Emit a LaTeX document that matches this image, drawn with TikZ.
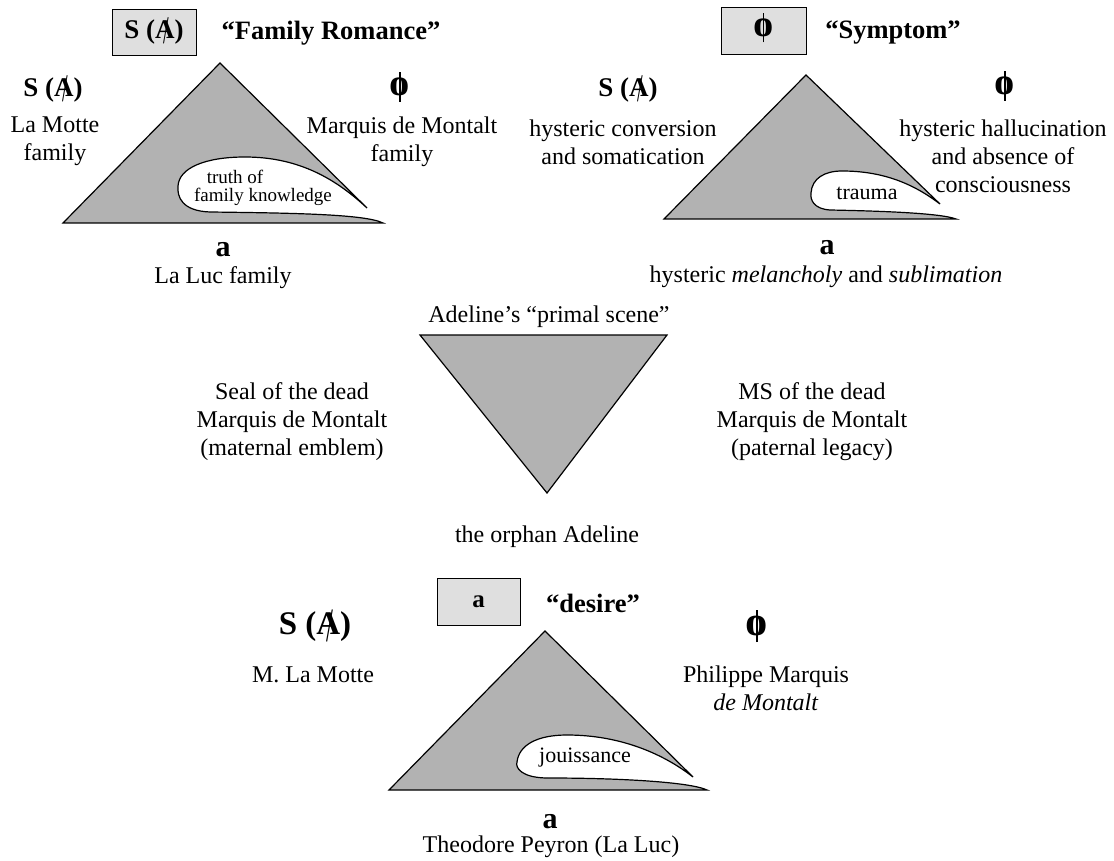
\documentclass[tikz,border=0pt]{standalone}
\usepackage{fontspec}
\setmainfont{Liberation Serif}
\usepackage{graphicx}
\newcommand\slA{\ooalign{\hfil A\hfil\cr\hfil\kern0.12em\raisebox{-0.2em}{\scalebox{0.75}[1.45]{\mdseries /}}\hfil}}
\newcommand\sA{S (\slA)}
\newcommand\phisym{\ooalign{\hfil\scalebox{1.35}[1.25]{\bfseries o}\hfil\cr\hfil\rule[-0.2em]{0.05em}{0.98em}\hfil}}
\tikzset{
  lbl/.style={font=\fontsize{24}{28}\selectfont, align=center, inner sep=0pt},
  smalllbl/.style={font=\fontsize{19}{21}\selectfont, align=center, inner sep=0pt},
  midlbl/.style={font=\fontsize{22}{24}\selectfont, align=center, inner sep=0pt},
  head/.style={font=\bfseries\fontsize{26.5}{30}\selectfont, inner sep=0pt},
  sym/.style={font=\bfseries\fontsize{27}{30}\selectfont, inner sep=0pt},
  bigsym/.style={font=\bfseries\fontsize{33}{36}\selectfont, inner sep=0pt},
  phinode/.style={font=\fontsize{30}{32}\selectfont, inner sep=0pt},
  bigphi/.style={font=\fontsize{33}{35}\selectfont, inner sep=0pt},
  avar/.style={font=\bfseries\fontsize{30}{32}\selectfont, inner sep=0pt},
  hbox/.style={draw, fill=gray!25, line width=0.8pt, inner sep=0pt},
  tri/.style={fill=gray!60, draw=black, line width=1.2pt, line join=miter},
}
\begin{document}
\begin{tikzpicture}[x=1pt,y=-1pt]
\useasboundingbox[fill=white] (0,0) rectangle (1114,861);

% ---------- top-left: Family Romance ----------
\draw[tri] (220,63) -- (63,223) -- (383,223)
  .. controls (365,214) and (290,213) .. (210,212)
  .. controls (182,211) and (177,197) .. (178,186)
  .. controls (179,168) and (205,157) .. (245,157)
  .. controls (300,157) and (337,180) .. (367,208) -- cycle;
\node[hbox, minimum width=84pt, minimum height=46pt, sym] (hb1) at (154,32) {\sA};
\node[head] (fr) at (331,33) {“Family Romance”};
\node[sym] (sL1) at (53,90) {\sA};
\node[lbl] (lL1) at (55,141.5) {La Motte\\family};
\node[phinode] (pR1) at (400,90) {\phisym};
\node[lbl] (lR1) at (402,141.5) {Marquis de Montalt\\family};
\node[smalllbl] (tr1) at (235,177) {truth of};
\node[smalllbl] (tr2) at (263,197) {family knowledge};
\node[avar] (a1) at (223,250) {a};
\node[lbl] (ll1) at (223,278) {La Luc family};

% ---------- top-right: Symptom ----------
\draw[tri] (806,75) -- (664,219) -- (956,219)
  .. controls (940,213) and (880,211) .. (830,210)
  .. controls (814,209) and (810,200) .. (811,193)
  .. controls (812,178) and (825,171) .. (842,171)
  .. controls (885,171) and (915,185) .. (940,204) -- cycle;
\node[hbox, minimum width=85pt, minimum height=47pt, phinode] (hb2) at (763.5,30.5) {\phisym};
\node[head] (sy) at (893,33) {“Symptom”};
\node[sym] (sL2) at (628,90) {\sA};
\node[lbl] (lL2) at (623,142) {hysteric conversion\\and somatication};
\node[phinode] (pR2) at (1005,89) {\phisym};
\node[lbl] (lR2) at (1003,156) {hysteric hallucination\\and absence of\\consciousness};
\node[midlbl] (trm) at (867,193) {trauma};
\node[avar] (a2) at (827,248) {a};
\node[lbl] (hm) at (826,277) {hysteric \textit{melancholy} and \textit{sublimation}};

% ---------- middle: primal scene ----------
\draw[tri] (420,335) -- (667,335) -- (547,493) -- cycle;
\node[lbl] (prim) at (549,317) {Adeline’s “primal scene”};
\node[lbl] (seal) at (292,422) {Seal of the dead\\Marquis de Montalt\\(maternal emblem)};
\node[lbl] (ms) at (812,422) {MS of the dead\\Marquis de Montalt\\(paternal legacy)};
\node[lbl] (orph) at (547,537) {the orphan Adeline};

% ---------- bottom: desire ----------
\draw[tri] (545,631) -- (389,790) -- (707,790)
  .. controls (690,782) and (620,778) .. (548,778)
  .. controls (522,778) and (515,768) .. (517,762)
  .. controls (519,745) and (537,735) .. (567,735)
  .. controls (622,735) and (665,755) .. (693,777) -- cycle;
\node[hbox, minimum width=83pt, minimum height=47pt, font=\bfseries\fontsize{25}{27}\selectfont] (hb3) at (478.5,601.5) {a};
\node[head] (des) at (593,603) {“desire”};
\node[bigsym] (sL4) at (315,627) {\sA};
\node[lbl] (mlm) at (313,675) {M. La Motte};
\node[bigphi] (pR4) at (757,629) {\phisym};
\node[lbl] (pm) at (766,688) {Philippe Marquis\\\textit{de Montalt}};
\node[midlbl] (jou) at (585,758) {jouissance};
\node[avar] (a4) at (550,822) {a};
\node[lbl] (tp) at (551,847) {Theodore Peyron (La Luc)};
\end{tikzpicture}
\end{document}
